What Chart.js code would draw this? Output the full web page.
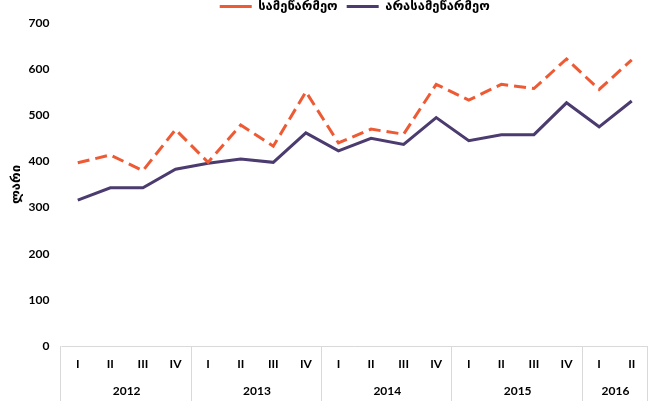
<!DOCTYPE html>
<html>
<head>
<meta charset="utf-8">
<script src="https://cdn.jsdelivr.net/npm/chart.js@4.4.0/dist/chart.umd.min.js"></script>
<style>
  html, body { margin: 0; padding: 0; background: #fff; }
</style>
</head>
<body>
<canvas id="chart" width="653" height="401"></canvas>
<script>
// quarters and years
const quarters = ["I", "II", "III", "IV", "I", "II", "III", "IV", "I", "II", "III", "IV", "I", "II", "III", "IV", "I", "II"];
const years = ["2012", "2013", "2014", "2015", "2016"];
const quartersPerYear = [4, 4, 4, 4, 2];

// values, lari
const entrepreneurial = [397, 414, 380, 469, 398, 479, 433, 551, 440, 470, 459, 567, 533, 567, 558, 622, 556, 620];
const nonEntrepreneurial = [316, 343, 343, 383, 396, 405, 398, 462, 423, 450, 437, 495, 445, 458, 458, 527, 475, 531];

const tickFont = { family: "'Lato', 'Liberation Sans', sans-serif", size: 12, weight: "bold" };
const geoFont = { family: "'DejaVu Sans', sans-serif", size: 13, weight: "bold" };

// year row + boxes under the plot
const yearAxis = {
  id: "yearAxis",
  afterDraw(chart) {
    const ctx = chart.ctx;
    const x = chart.scales.x;
    const area = chart.chartArea;
    const bottom = chart.height;
    const half = (x.getPixelForValue(1) - x.getPixelForValue(0)) / 2;

    ctx.save();
    ctx.strokeStyle = "#d9d9d9";
    ctx.lineWidth = 1;
    ctx.beginPath();
    ctx.moveTo(area.left, area.bottom + 0.5);
    ctx.lineTo(area.right, area.bottom + 0.5);
    ctx.stroke();

    let idx = 0;
    const edges = [x.getPixelForValue(0) - half];
    years.forEach((y, i) => {
      idx += quartersPerYear[i];
      edges.push(x.getPixelForValue(idx - 1) + half);
    });
    edges.forEach(e => {
      ctx.beginPath();
      ctx.moveTo(Math.round(e) - 0.5, area.bottom);
      ctx.lineTo(Math.round(e) - 0.5, bottom);
      ctx.stroke();
    });

    ctx.fillStyle = "#000";
    ctx.font = "bold 12px 'Lato', 'Liberation Sans', sans-serif";
    ctx.textAlign = "center";
    ctx.textBaseline = "middle";
    years.forEach((y, i) => {
      ctx.fillText(y, (edges[i] + edges[i + 1]) / 2, area.bottom + 45);
    });
    ctx.restore();
  }
};

new Chart(document.getElementById("chart"), {
  type: "line",
  data: {
    labels: quarters,
    datasets: [
      {
        label: "სამეწარმეო",
        data: entrepreneurial,
        borderColor: "#ee5a33",
        backgroundColor: "#ee5a33",
        borderWidth: 3,
        borderDash: [12, 6],
        pointRadius: 0,
        tension: 0
      },
      {
        label: "არასამეწარმეო",
        data: nonEntrepreneurial,
        borderColor: "#4b3b6f",
        backgroundColor: "#4b3b6f",
        borderWidth: 3,
        pointRadius: 0,
        tension: 0
      }
    ]
  },
  options: {
    responsive: false,
    animation: false,
    layout: { padding: { left: 9, right: 5, top: -9, bottom: 0 } },
    plugins: {
      legend: {
        position: "top",
        fullSize: false,
        labels: {
          usePointStyle: true,
          pointStyle: "line",
          pointStyleWidth: 32,
          boxWidth: 32,
          boxHeight: 3,
          padding: 9,
          color: "#000",
          font: geoFont
        }
      },
      tooltip: { enabled: false }
    },
    scales: {
      x: {
        offset: true,
        grid: { display: false },
        border: { display: false },
        ticks: { color: "#000", font: tickFont, padding: 3, maxRotation: 0, autoSkip: false },
        afterFit(scale) { scale.height = 55; }
      },
      y: {
        min: 0,
        max: 700,
        grid: { display: false },
        border: { display: false },
        ticks: { stepSize: 100, color: "#000", font: tickFont, padding: 4 },
        title: { display: true, text: "ლარი", color: "#000", font: geoFont, padding: 0 }
      }
    }
  },
  plugins: [yearAxis]
});
</script>
</body>
</html>
